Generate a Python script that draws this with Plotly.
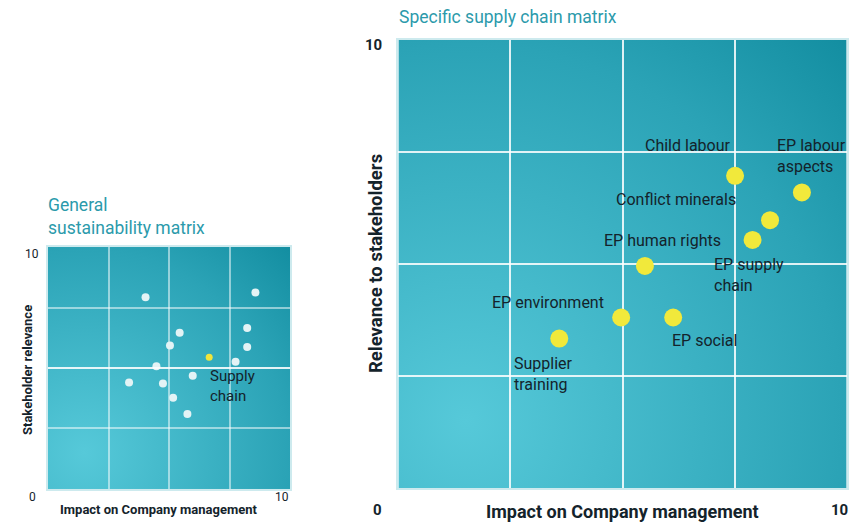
import base64
import plotly.graph_objects as go

# general sustainability matrix (white dots) + the supply chain topic (yellow)
general_impact = [4.03, 8.57, 5.44, 5.04, 8.23, 8.23, 7.75, 4.48, 5.98, 3.35, 4.75, 5.17, 5.76]
general_relevance = [7.92, 8.12, 6.46, 5.93, 6.65, 5.87, 5.26, 5.07, 4.68, 4.40, 4.36, 3.77, 3.10]
supply_impact = [6.66]
supply_relevance = [5.44]

# specific supply chain matrix
topics = ["Child labour", "EP labour<br>aspects", "Conflict minerals", "EP supply<br>chain",
          "EP human rights", "EP environment", "EP social", "Supplier<br>training"]
topic_impact = [7.51, 9.00, 8.29, 7.90, 5.50, 4.97, 6.13, 3.59]
topic_relevance = [6.97, 6.60, 5.98, 5.54, 4.96, 3.81, 3.81, 3.34]

# label placement (anchor, xshift, yshift) per topic
label_pos = {
    "Child labour": ("right", -2, 30),
    "EP labour<br>aspects": ("left", -27, 36),
    "Conflict minerals": ("right", -32, 21),
    "EP supply<br>chain": ("left", -41, -35),
    "EP human rights": ("right", 78, 25),
    "EP environment": ("right", -15, 15),
    "EP social": ("left", -3, -23),
    "Supplier<br>training": ("left", -47, -35),
}

FONT = "Roboto"
TEAL = "#2b9aab"
TXT = "#14232b"

svg = ("<svg xmlns='http://www.w3.org/2000/svg' width='200' height='200' preserveAspectRatio='none'>"
       "<defs><radialGradient id='g' cx='0.15' cy='0.85' r='1.2'>"
       "<stop offset='0' stop-color='#56c9d9'/>"
       "<stop offset='0.7' stop-color='#2ba3b6'/>"
       "<stop offset='1' stop-color='#138ea1'/>"
       "</radialGradient></defs>"
       "<rect width='200' height='200' fill='url(#g)'/></svg>")
bg = "data:image/svg+xml;base64," + base64.b64encode(svg.encode()).decode()

fig = go.Figure()

fig.add_trace(go.Scatter(x=general_impact, y=general_relevance, mode="markers",
                         marker=dict(size=8, color="#e3f3f5"), xaxis="x", yaxis="y",
                         hoverinfo="skip"))
fig.add_trace(go.Scatter(x=supply_impact, y=supply_relevance, mode="markers",
                         marker=dict(size=7, color="#f0e53c"), xaxis="x", yaxis="y",
                         hoverinfo="skip"))
fig.add_trace(go.Scatter(x=topic_impact, y=topic_relevance, mode="markers",
                         marker=dict(size=18, color="#f1e93b"), xaxis="x2", yaxis="y2",
                         text=topics, hoverinfo="text"))

ax_common = dict(range=[0, 10], tick0=0, dtick=2.5, showticklabels=False, ticks="",
                 zeroline=False, showline=True, mirror=True, linecolor="#cdeaee")

fig.update_layout(
    width=851, height=525,
    margin=dict(l=0, r=0, t=0, b=0),
    paper_bgcolor="white", plot_bgcolor="white",
    showlegend=False,
    xaxis=dict(domain=[0.0564, 0.3408], gridcolor="rgba(255,255,255,0.5)", gridwidth=1.5,
               linewidth=2, anchor="y", **ax_common),
    yaxis=dict(domain=[0.0686, 0.5295], gridcolor="rgba(255,255,255,0.5)", gridwidth=1.5,
               linewidth=2, anchor="x", **ax_common),
    xaxis2=dict(domain=[0.468, 0.995], gridcolor="rgba(255,255,255,0.85)", gridwidth=2,
                linewidth=2, anchor="y2", **ax_common),
    yaxis2=dict(domain=[0.0699, 0.9238], gridcolor="rgba(255,255,255,0.85)", gridwidth=2,
                linewidth=2, anchor="x2", **ax_common),
    images=[
        dict(source=bg, xref="x", yref="y", x=0, y=10, sizex=10, sizey=10,
             sizing="stretch", layer="below"),
        dict(source=bg, xref="x2", yref="y2", x=0, y=10, sizex=10, sizey=10,
             sizing="stretch", layer="below"),
    ],
    shapes=[dict(type="line", xref="x", yref="y", x0=0, x1=10, y0=5, y1=5,
                 line=dict(color="white", width=1.5))],
)

ann = []
# labels on the specific matrix
for name, xi, yi in zip(topics, topic_impact, topic_relevance):
    anchor, dx, dy = label_pos[name]
    ann.append(dict(x=xi, y=yi, xref="x2", yref="y2", text=name, showarrow=False,
                    xanchor=anchor, yanchor="middle", align="left", xshift=dx, yshift=dy,
                    font=dict(family=FONT, size=16, color=TXT)))
ann.append(dict(x=supply_impact[0], y=supply_relevance[0], xref="x", yref="y",
                text="Supply<br>chain", showarrow=False, xanchor="left", yanchor="middle",
                align="left", xshift=-1, yshift=-29, font=dict(family=FONT, size=15, color=TXT)))

# titles
ann.append(dict(x=397, y=17, xref="paper", yref="paper", text="Specific supply chain matrix"))
ann.append(dict(x=46, y=216, xref="paper", yref="paper", text="General<br>sustainability matrix"))
for a in ann[-2:]:
    a.update(x=a["x"] / 851, y=1 - a["y"] / 525, showarrow=False, xanchor="left",
             yanchor="middle", align="left", font=dict(family=FONT, size=17.5, color=TEAL))

# axis titles and end values
def paper_text(px, py, text, size, bold=True, angle=0, anchor="center"):
    t = f"<b>{text}</b>" if bold else text
    return dict(x=px / 851, y=1 - py / 525, xref="paper", yref="paper", text=t,
                showarrow=False, textangle=angle, xanchor=anchor, yanchor="middle",
                font=dict(family=FONT, size=size, color=TXT))

ann += [
    paper_text(622, 511, "Impact on Company management", 18),
    paper_text(376, 264, "Relevance to stakeholders", 18.5, angle=-90),
    paper_text(377, 510, "0", 15),
    paper_text(839, 510, "10", 15),
    paper_text(373, 45, "10", 15),
    paper_text(159, 509, "Impact on Company management", 13),
    paper_text(27, 370, "Stakeholder relevance", 13, angle=-90),
    paper_text(32, 254, "10", 12, bold=False),
    paper_text(32, 497, "0", 12, bold=False),
    paper_text(282, 497, "10", 12, bold=False),
]
fig.update_layout(annotations=ann)

fig.write_html("out.html", config={"displayModeBar": False},
               post_script="document.body.style.margin='0';")
